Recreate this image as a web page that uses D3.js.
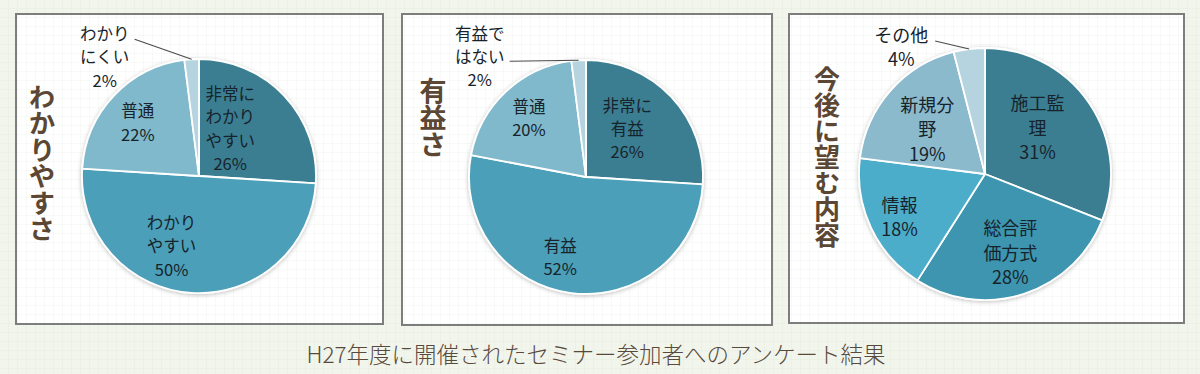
<!DOCTYPE html>
<html>
<head>
<meta charset="utf-8">
<script src="https://cdn.jsdelivr.net/npm/d3@7"></script>
<style>
  html, body { margin: 0; padding: 0; background: #f2f5ec; }
  svg { display: block; font-family: "Noto Sans CJK JP", "Noto Sans", sans-serif; }
</style>
</head>
<body>
<div id="chart"></div>
<script>
// Seminar survey: three pies side by side, with a caption underneath.

const clarityCategories = ['非常にわかりやすい', 'わかりやすい', '普通', 'わかりにくい'];
const clarityLabels = [['非常に', 'わかり', 'やすい'], ['わかり', 'やすい'], ['普通'], ['わかり', 'にくい']];
const clarityValues = [26, 50, 22, 2];

const usefulCategories = ['非常に有益', '有益', '普通', '有益ではない'];
const usefulLabels = [['非常に', '有益'], ['有益'], ['普通'], ['有益で', 'はない']];
const usefulValues = [26, 52, 20, 2];

const wishCategories = ['施工監理', '総合評価方式', '情報', '新規分野', 'その他'];
const wishLabels = [['施工監', '理'], ['総合評', '価方式'], ['情報'], ['新規分', '野'], ['その他']];
const wishValues = [31, 28, 18, 19, 4];

const caption = 'H27年度に開催されたセミナー参加者へのアンケート結果';

const W = 1200, H = 374;

const svg = d3.select('#chart').append('svg')
    .attr('width', W)
    .attr('height', H);

const defs = svg.append('defs');

// faint grid texture on the page and in the panels
const pat = defs.append('pattern')
    .attr('id', 'grid')
    .attr('width', 9).attr('height', 9)
    .attr('patternUnits', 'userSpaceOnUse');
pat.append('path')
    .attr('d', 'M9 0 V9 M0 9 H9')
    .attr('stroke', 'rgba(190,205,180,0.22)')
    .attr('fill', 'none');

const shadow = defs.append('filter')
    .attr('id', 'pieShadow')
    .attr('x', '-10%').attr('y', '-10%')
    .attr('width', '120%').attr('height', '120%');
shadow.append('feDropShadow')
    .attr('dx', 0).attr('dy', 1)
    .attr('stdDeviation', 2)
    .attr('flood-color', '#000')
    .attr('flood-opacity', 0.25);

svg.append('rect').attr('width', W).attr('height', H).attr('fill', '#f2f5ec');
svg.append('rect').attr('width', W).attr('height', H).attr('fill', 'url(#grid)');

const panels = [
    {
        title: 'わかりやすさ', names: clarityCategories, labels: clarityLabels, values: clarityValues,
        box: [16, 14, 367, 310], cx: 199, cy: 176, r: 117,
        colors: ['#3b7e92', '#4b9fb9', '#80b9cc', '#b6d4df'],
        font: 16.5, lineH: 23.5,
        titleX: 42, titleY: 163, titleSize: 26.5,
        nudge: [[-20, 0], [-23, -1], [-10, -6]],
        outside: {text: [-87, -3], line: [-57, -20]}
    },
    {
        title: '有益さ', names: usefulCategories, labels: usefulLabels, values: usefulValues,
        box: [402, 14, 370, 311], cx: 586, cy: 177, r: 117,
        colors: ['#3b7e92', '#4b9fb9', '#80b9cc', '#b6d4df'],
        font: 16.5, lineH: 23,
        titleX: 433, titleY: 118, titleSize: 27,
        nudge: [[-10, -1], [-17, 10], [-9, -8]],
        outside: {text: [-99, -4], line: [-69, 1]}
    },
    {
        title: '今後に望む内容', names: wishCategories, labels: wishLabels, values: wishValues,
        box: [789, 14, 395, 309], cx: 985, cy: 174, r: 126,
        colors: ['#3a7e92', '#3e95af', '#4badca', '#8bbacd', '#b6d4df'],
        font: 18, lineH: 24.5,
        titleX: 827, titleY: 157, titleSize: 26,
        nudge: [[-10, -5], [2, 6], [-17, 10], [-1, 4]],
        outside: {text: [-68, -3], line: [-34, -8]}
    }
];

panels.forEach(drawPanel);

function drawPanel(p) {
    const g = svg.append('g');
    const [bx, by, bw, bh] = p.box;

    g.append('rect')
        .attr('x', bx).attr('y', by)
        .attr('width', bw).attr('height', bh)
        .attr('fill', '#fff')
        .attr('stroke', '#7d7d7d')
        .attr('stroke-width', 2);
    g.append('rect')
        .attr('x', bx + 1).attr('y', by + 1)
        .attr('width', bw - 2).attr('height', bh - 2)
        .attr('fill', 'url(#grid)');

    // vertical title
    g.append('text')
        .attr('x', p.titleX)
        .attr('y', p.titleY)
        .attr('text-anchor', 'middle')
        .style('writing-mode', 'vertical-rl')
        .attr('font-size', p.titleSize)
        .attr('font-weight', 700)
        .attr('fill', '#5b4734')
        .text(p.title);

    const pie = d3.pie().sort(null).value(d => d)(p.values);
    const arc = d3.arc().innerRadius(0).outerRadius(p.r);
    const labelArc = d3.arc().innerRadius(p.r * 0.6).outerRadius(p.r * 0.6);

    const pg = g.append('g').attr('transform', `translate(${p.cx},${p.cy})`);

    pg.append('g')
        .attr('filter', 'url(#pieShadow)')
        .selectAll('path')
        .data(pie)
        .enter().append('path')
        .attr('d', arc)
        .attr('fill', (d, i) => p.colors[i])
        .attr('stroke', '#fff')
        .attr('stroke-width', 1.8)
        .attr('stroke-linejoin', 'round');

    const last = pie.length - 1;

    pie.forEach((d, i) => {
        const lines = p.labels[i].concat([d.data + '%']);
        let lx, ly;
        if (i < last) {
            const [cx, cy] = labelArc.centroid(d);
            lx = cx + p.nudge[i][0];
            ly = cy + p.nudge[i][1];
        } else {
            // small slice: label outside with a leader line to the rim
            const a = (d.startAngle + d.endAngle) / 2;
            const ex = p.r * Math.sin(a), ey = -p.r * Math.cos(a);
            lx = ex + p.outside.text[0];
            ly = ey + p.outside.text[1];
            pg.append('line')
                .attr('x1', ex + p.outside.line[0])
                .attr('y1', ey + p.outside.line[1])
                .attr('x2', ex).attr('y2', ey)
                .attr('stroke', '#4a4a4a')
                .attr('stroke-width', 1.1);
        }
        const top = ly - (lines.length - 1) * p.lineH / 2;
        const txt = pg.append('text')
            .attr('text-anchor', 'middle')
            .attr('font-size', p.font)
            .attr('fill', '#17232b');
        lines.forEach((s, k) => {
            txt.append('tspan')
                .attr('x', lx)
                .attr('y', top + k * p.lineH)
                .attr('dominant-baseline', 'central')
                .text(s);
        });
    });
}

svg.append('text')
    .attr('x', 596)
    .attr('y', 353)
    .attr('text-anchor', 'middle')
    .attr('dominant-baseline', 'central')
    .attr('font-size', 22.5)
    .attr('font-weight', 300)
    .attr('fill', '#58493d')
    .text(caption);
</script>
</body>
</html>
